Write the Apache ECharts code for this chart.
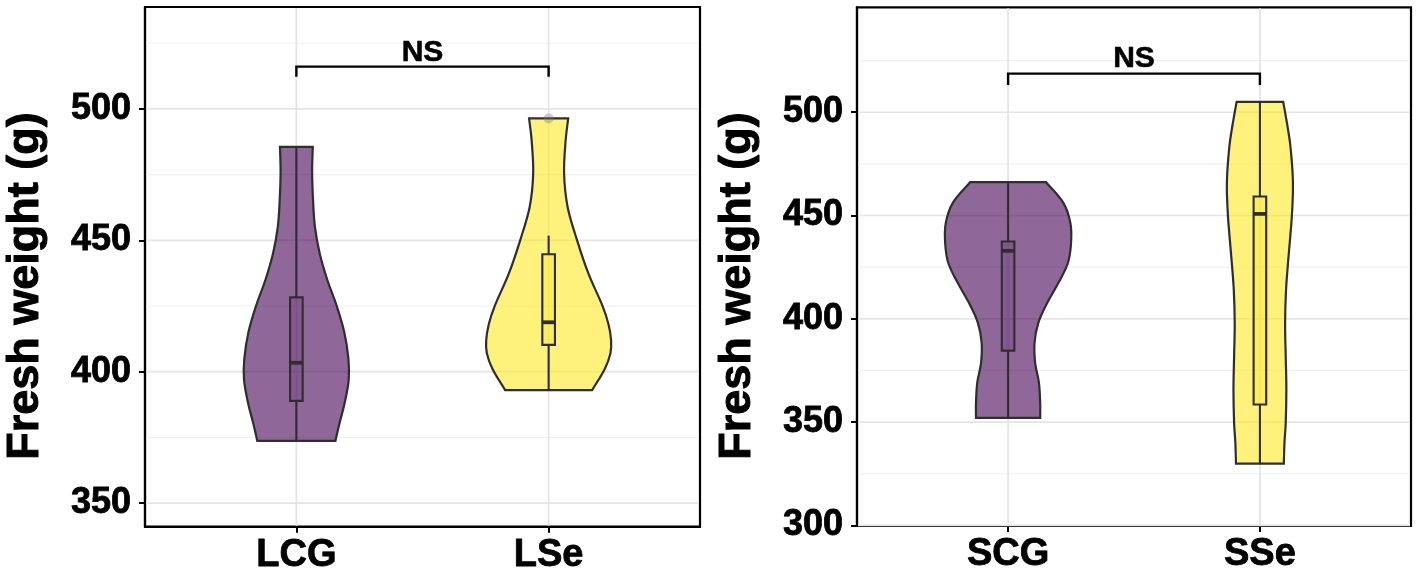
<!DOCTYPE html>
<html>
<head>
<meta charset="utf-8">
<script src="https://cdn.jsdelivr.net/npm/echarts@6/dist/echarts.min.js"></script>
<style>
  html, body { margin: 0; padding: 0; background: #fff; }
  #chart { width: 1418px; height: 577px; }
</style>
</head>
<body>
<div id="chart"></div>
<script>
// categories
const leftCats = ['LCG', 'LSe'];
const rightCats = ['SCG', 'SSe'];

// y ticks
const leftTicks = [350, 400, 450, 500];
const leftMinor = [375, 425, 475, 525];
const rightTicks = [300, 350, 400, 450, 500];
const rightMinor = [325, 375, 425, 475, 525];

// violin outlines: weight (g) and relative half-width
const lcgY = [485.6, 476, 465, 455, 445, 435, 425, 415, 405, 397, 388, 380, 373.7];
const lcgW = [0.26, 0.25, 0.265, 0.295, 0.37, 0.49, 0.64, 0.76, 0.825, 0.83, 0.765, 0.68, 0.62];
const lseY = [496.4, 488.2, 475.5, 462.8, 450.1, 437.4, 424.7, 418, 412, 407, 401, 393];
const lseW = [0.31, 0.27, 0.245, 0.30, 0.45, 0.63, 0.86, 0.95, 0.99, 0.98, 0.89, 0.69];
const scgY = [466.2, 456, 446.3, 436.7, 427, 417.4, 407.6, 398, 388.3, 378.6, 369, 359.3, 352];
const scgW = [0.60, 0.88, 0.99, 1.0, 0.95, 0.80, 0.62, 0.48, 0.42, 0.43, 0.49, 0.51, 0.51];
const sseY = [505, 494.7, 486, 478.5, 470, 462.4, 454, 446.3, 430.2, 414, 397.9, 381.8, 365.7, 349.6, 339.9, 329.9];
const sseW = [0.37, 0.43, 0.475, 0.50, 0.52, 0.525, 0.515, 0.50, 0.455, 0.415, 0.40, 0.41, 0.42, 0.41, 0.39, 0.38];

// box stats: lower whisker, Q1, median, Q3, upper whisker
const lcgBox = [373.7, 388.9, 403.4, 428.3, 485.6];
const lseBox = [393, 410.2, 418.8, 444.7, 451.8];
const scgBox = [352, 384.6, 432.9, 437.4, 466.2];
const sseBox = [329.9, 358.5, 450.8, 459.2, 505];
const lseOutliers = [496.4];

// significance brackets: bar, tick end, label
const leftSig = [516.1, 512.3, 521.5];
const rightSig = [518.7, 513.2, 525.8];

const FONT = '"Liberation Sans", Arial, Helvetica, sans-serif';
const PURPLE = 'rgba(68,1,84,0.6)';
const YELLOW = 'rgba(253,231,37,0.6)';
const INK = '#2e2e2e';
const violinHalf = 0.25;
const boxHalf = 0.025;

const profiles = [
    {y: lcgY, w: lcgW, color: PURPLE},
    {y: lseY, w: lseW, color: YELLOW},
    {y: scgY, w: scgW, color: PURPLE},
    {y: sseY, w: sseW, color: YELLOW}
];
const boxFills = ['rgba(68,1,84,0.13)', 'rgba(253,231,37,0.3)'];

let chart = echarts.init(document.getElementById('chart'));

function gridLines(idx, majors, minors) {
    let data = [];
    majors.forEach(v => data.push([0, v]));
    minors.forEach(v => data.push([1, v]));
    [1, 2].forEach(v => data.push([2, v]));
    return {
        type: 'custom', xAxisIndex: idx, yAxisIndex: idx, z: 1, silent: true,
        data: data,
        renderItem(params, api) {
            let cs = params.coordSys;
            let kind = api.value(0), v = api.value(1);
            let color = kind === 1 ? '#f0f0f0' : '#e4e4e4';
            let w = kind === 1 ? 1.1 : 1.7;
            if (kind < 2) {
                let y = api.coord([1, v])[1];
                return {type: 'line', shape: {x1: cs.x + 1, y1: y, x2: cs.x + cs.width - 1, y2: y},
                    style: {stroke: color, lineWidth: w}};
            }
            let x = api.coord([v, 400])[0];
            return {type: 'line', shape: {x1: x, y1: cs.y + 1, x2: x, y2: cs.y + cs.height - 1},
                style: {stroke: color, lineWidth: w}};
        }
    };
}

function violins(idx, data) {
    return {
        type: 'custom', xAxisIndex: idx, yAxisIndex: idx, z: 2, silent: true,
        data: data,
        renderItem(params, api) {
            let cx = api.value(0);
            let p = profiles[api.value(1)];
            let right = p.y.map((v, i) => api.coord([cx + p.w[i] * violinHalf, v]));
            let left = p.y.map((v, i) => api.coord([cx - p.w[i] * violinHalf, v])).reverse();
            // doubled end points keep the trimmed ends flat
            let pts = [right[0]].concat(right, [right[right.length - 1], left[0]], left, [left[left.length - 1]]);
            return {
                type: 'polygon',
                shape: {points: pts, smooth: 0.35},
                style: {fill: p.color, stroke: INK, lineWidth: 2.2}
            };
        }
    };
}

function boxes(idx, data) {
    return {
        type: 'custom', xAxisIndex: idx, yAxisIndex: idx, z: 3, silent: true,
        data: data,
        renderItem(params, api) {
            let cx = api.value(0);
            let lo = api.coord([cx, api.value(1)]);
            let q1 = api.coord([cx, api.value(2)]);
            let med = api.coord([cx, api.value(3)]);
            let q3 = api.coord([cx, api.value(4)]);
            let hi = api.coord([cx, api.value(5)]);
            let xl = api.coord([cx - boxHalf, 400])[0];
            let xr = api.coord([cx + boxHalf, 400])[0];
            let st = {stroke: INK, lineWidth: 2.1};
            return {
                type: 'group',
                children: [
                    {type: 'line', shape: {x1: q3[0], y1: q3[1], x2: hi[0], y2: hi[1]}, style: st},
                    {type: 'line', shape: {x1: lo[0], y1: lo[1], x2: q1[0], y2: q1[1]}, style: st},
                    {type: 'rect', shape: {x: xl, y: q3[1], width: xr - xl, height: q1[1] - q3[1]},
                        style: {fill: boxFills[api.value(6)], stroke: INK, lineWidth: 2.1}},
                    {type: 'line', shape: {x1: xl, y1: med[1], x2: xr, y2: med[1]},
                        style: {stroke: INK, lineWidth: 3.8}}
                ]
            };
        }
    };
}

function bracket(idx, sig) {
    return {
        type: 'custom', xAxisIndex: idx, yAxisIndex: idx, z: 4, silent: true,
        data: [[1, 2, sig[0], sig[1], sig[2]]],
        renderItem(params, api) {
            let a = api.coord([api.value(0), api.value(3)]);
            let b = api.coord([api.value(0), api.value(2)]);
            let c = api.coord([api.value(1), api.value(2)]);
            let d = api.coord([api.value(1), api.value(3)]);
            let t = api.coord([(api.value(0) + api.value(1)) / 2, api.value(4)]);
            return {
                type: 'group',
                children: [
                    {type: 'polyline', shape: {points: [a, b, c, d]},
                        style: {stroke: '#000', lineWidth: 2.4, fill: null}},
                    {type: 'text', x: t[0], y: t[1],
                        style: {text: 'NS', fill: '#000', font: 'bold 30px ' + FONT,
                            stroke: '#000', lineWidth: 0.6,
                            align: 'center', verticalAlign: 'middle'}}
                ]
            };
        }
    };
}

function xAxisOf(idx, cats) {
    return {
        type: 'value', gridIndex: idx, min: 0.4, max: 2.6,
        axisLine: {show: true, onZero: false, lineStyle: {color: '#000', width: 2.2}},
        axisTick: {show: true, length: 6, customValues: [1, 2], lineStyle: {color: '#000', width: 2}},
        axisLabel: {
            customValues: [1, 2], margin: 10, color: '#000',
            fontSize: 38, fontWeight: 'bold', fontFamily: FONT,
            textBorderColor: '#000', textBorderWidth: 0.8,
            formatter: v => cats[Math.round(v) - 1]
        },
        splitLine: {show: false}
    };
}

function yAxisOf(idx, min, max, ticks) {
    return {
        type: 'value', gridIndex: idx, min: min, max: max,
        axisLine: {show: true, lineStyle: {color: '#000', width: 2.2}},
        axisTick: {show: true, length: 6, customValues: ticks, lineStyle: {color: '#000', width: 2}},
        axisLabel: {
            customValues: ticks, margin: 14, color: '#000',
            fontSize: 36, fontWeight: 'bold', fontFamily: FONT,
            textBorderColor: '#000', textBorderWidth: 0.8
        },
        splitLine: {show: false}
    };
}

let titleStyle = {text: 'Fresh weight (g)', fill: '#000', font: 'bold 45px ' + FONT,
    stroke: '#000', lineWidth: 1, align: 'center', verticalAlign: 'middle'};

let options = {
    animation: false,
    backgroundColor: '#fff',
    grid: [
        {left: 145, top: 7, width: 555, height: 519.7, show: true, borderColor: '#000', borderWidth: 2.2, backgroundColor: 'transparent'},
        {left: 857, top: 7.3, width: 554, height: 518.7, show: true, borderColor: '#000', borderWidth: 2.2, backgroundColor: 'transparent'}
    ],
    xAxis: [xAxisOf(0, leftCats), xAxisOf(1, rightCats)],
    yAxis: [yAxisOf(0, 341.0, 538.8, leftTicks), yAxisOf(1, 299.7, 550.8, rightTicks)],
    graphic: [
        {type: 'text', x: 26, y: 286, rotation: Math.PI / 2, style: titleStyle},
        {type: 'text', x: 738, y: 286, rotation: Math.PI / 2, style: titleStyle}
    ],
    series: [
        gridLines(0, leftTicks, leftMinor),
        gridLines(1, rightTicks, rightMinor),
        violins(0, [[1, 0], [2, 1]]),
        violins(1, [[1, 2], [2, 3]]),
        boxes(0, [[1].concat(lcgBox, [0]), [2].concat(lseBox, [1])]),
        boxes(1, [[1].concat(scgBox, [0]), [2].concat(sseBox, [1])]),
        {
            type: 'scatter', xAxisIndex: 0, yAxisIndex: 0, z: 4, silent: true,
            symbolSize: 10,
            itemStyle: {color: 'rgba(120,120,120,0.45)'},
            data: lseOutliers.map(v => [2, v])
        },
        bracket(0, leftSig),
        bracket(1, rightSig)
    ]
};

chart.setOption(options);
</script>
</body>
</html>
